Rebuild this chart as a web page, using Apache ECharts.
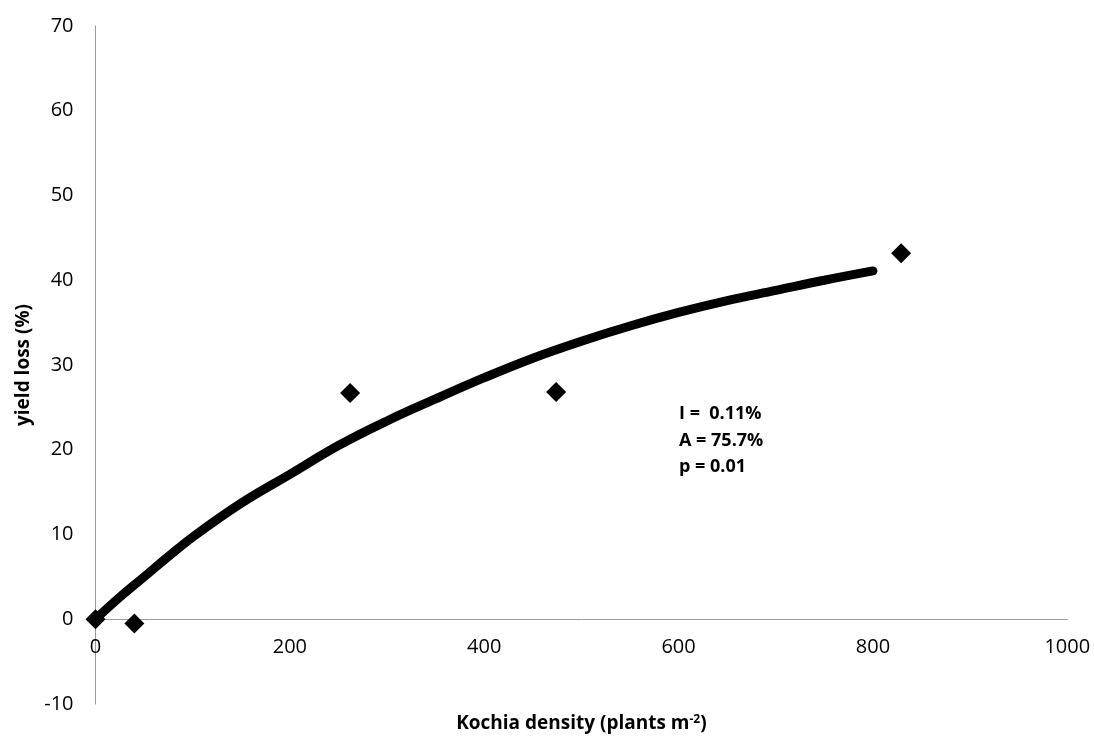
<!DOCTYPE html>
<html>
<head>
<meta charset="utf-8">
<title>Kochia density vs yield loss</title>
<script src="https://cdn.jsdelivr.net/npm/echarts@6/dist/echarts.min.js"></script>
<style>
  html, body { margin: 0; padding: 0; background: #ffffff; }
  #chart { width: 1094px; height: 736px; }
</style>
</head>
<body>
<div id="chart"></div>
<script>
// Observed yield loss at each kochia density
const obsDensity = [0, 40, 262, 474, 829];
const obsYieldLoss = [0, -0.5, 26.7, 26.8, 43.2];

// Fitted rectangular-hyperbola curve, sampled along density
const fitDensity = [0, 25, 50, 75, 100, 150, 200, 250, 300, 350, 400, 450, 500, 550, 600, 650, 700, 750, 800];
const fitYieldLoss = [0, 2.6, 5.0, 7.4, 9.7, 13.7, 17.1, 20.5, 23.4, 26.0, 28.5, 30.8, 32.8, 34.6, 36.2, 37.6, 38.8, 40.0, 41.1];

// Fit statistics shown beside the curve
const fitStats = ['I =  0.11%', 'A = 75.7%', 'p = 0.01'];

const xTicks = { min: 0, max: 1000, interval: 200 };
const yTicks = { min: -10, max: 70, interval: 10 };

const FONT = '"Open Sans", "Noto Sans", sans-serif';
const AXIS_GRAY = '#9a9a9a';

const GRID = { left: 95.5, right: 26.7, top: 26, bottom: 32 };
const CHART_H = 736;

const chart = echarts.init(document.getElementById('chart'), null, { renderer: 'canvas' });

// Lift the x axis (line, labels and title) from the grid bottom up to y = 0
const plotH = CHART_H - GRID.top - GRID.bottom;
const zeroLift = plotH * (0 - yTicks.min) / (yTicks.max - yTicks.min);

chart.setOption({
  backgroundColor: '#ffffff',
  animation: false,
  grid: Object.assign({ containLabel: false, outerBoundsMode: 'none' }, GRID),
  xAxis: {
    type: 'value',
    min: xTicks.min, max: xTicks.max, interval: xTicks.interval,
    offset: -zeroLift,
    axisLine: { show: true, onZero: false, lineStyle: { color: AXIS_GRAY, width: 1 } },
    axisTick: { show: false },
    splitLine: { show: false },
    axisLabel: { color: '#000000', fontFamily: FONT, fontSize: 20, margin: 18, formatter: (v) => String(v) },
    name: '{t|Kochia density (plants m}{s|-2}{t|)}',
    nameLocation: 'middle',
    nameGap: 94,
    nameTextStyle: {
      rich: {
        t: { fontFamily: FONT, fontSize: 19, fontWeight: 'bold', color: '#000000' },
        s: { fontFamily: FONT, fontSize: 12, fontWeight: 'bold', color: '#000000', verticalAlign: 'top', padding: [0, 0, 9, 0] }
      }
    }
  },
  yAxis: {
    type: 'value',
    min: yTicks.min, max: yTicks.max, interval: yTicks.interval,
    axisLine: { show: true, onZero: false, lineStyle: { color: AXIS_GRAY, width: 1 } },
    axisTick: { show: false },
    splitLine: { show: false },
    axisLabel: { color: '#000000', fontFamily: FONT, fontSize: 20, margin: 22, formatter: (v) => String(v) },
    name: 'yield loss (%)',
    nameLocation: 'middle',
    nameGap: 54,
    nameTextStyle: { fontFamily: FONT, fontSize: 19, fontWeight: 'bold', color: '#000000' }
  },
  graphic: [{
    type: 'text',
    left: 679,
    top: 401,
    style: {
      text: fitStats.join('\n'),
      font: 'bold 18px ' + FONT,
      lineHeight: 26.5,
      fill: '#000000'
    }
  }],
  series: [
    {
      name: 'fit',
      type: 'line',
      data: fitDensity.map((d, i) => [d, fitYieldLoss[i]]),
      smooth: 0.4,
      showSymbol: false,
      lineStyle: { color: '#000000', width: 9, cap: 'round', join: 'round' },
      z: 2
    },
    {
      name: 'observed',
      type: 'scatter',
      data: obsDensity.map((d, i) => [d, obsYieldLoss[i]]),
      symbol: 'diamond',
      symbolSize: 20,
      itemStyle: { color: '#000000', opacity: 1 },
      z: 3
    }
  ]
});
</script>
</body>
</html>
